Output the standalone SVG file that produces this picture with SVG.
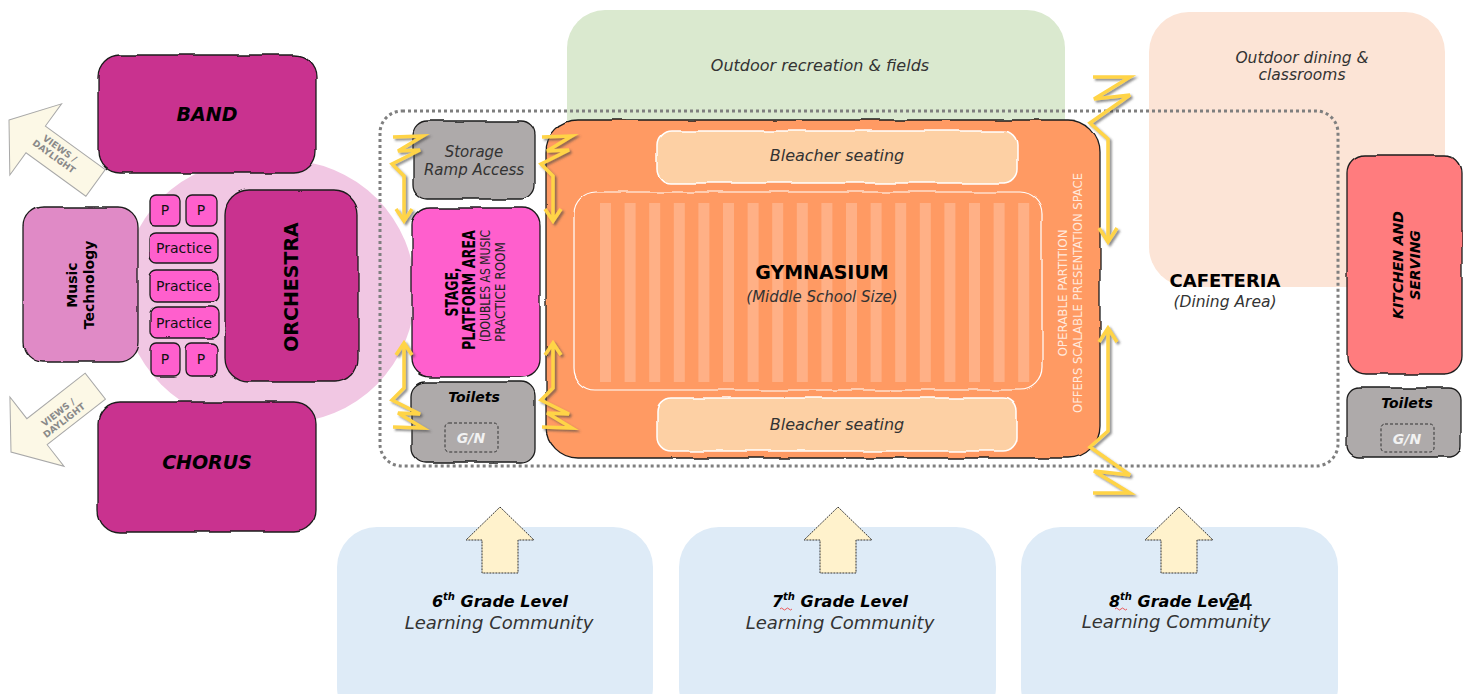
<svg xmlns="http://www.w3.org/2000/svg" width="1463" height="694" viewBox="0 0 1463 694">
<defs>
<filter id="wob" x="-5%" y="-5%" width="110%" height="110%">
<feTurbulence type="fractalNoise" baseFrequency="0.035" numOctaves="1" seed="3" result="n"/>
<feDisplacementMap in="SourceGraphic" in2="n" scale="4" xChannelSelector="R" yChannelSelector="G"/>
</filter>
<filter id="sh" x="-30%" y="-10%" width="160%" height="130%">
<feDropShadow dx="2" dy="2" stdDeviation="1.2" flood-color="#444" flood-opacity="0.6"/>
</filter>
<path id="zigS" d="M-11 0 L19 -1 L-6 14 L16 13 L-12 27 L0 39 L0 84 M-8 72 L0 84 L8 72"/>
<path id="zigB" d="M-15 0 L22 0 L-14 22 L22 18 L-18 46 L0 62 L0 165 M-9 151 L0 165 L9 151"/>
<path id="views" d="M0 0 L33 -44 L33 -16.5 L107 -16.5 L107 16.5 L33 16.5 L33 44 Z"/>
<path id="up" d="M0 0 L34 33 L18 33 L18 66 L-18 66 L-18 33 L-34 33 Z"/>
</defs>
<style>
.room{stroke:#1c1c1c;stroke-width:1.3;filter:url(#wob)}
.t{font-family:"DejaVu Sans","Liberation Sans",sans-serif;}
.c{font-family:"DejaVu Sans Condensed","DejaVu Sans",sans-serif;font-stretch:condensed;}
.b{font-weight:bold}
.i{font-style:italic}
.m{text-anchor:middle}
.zig{fill:none;stroke:#ffd447;stroke-width:3.5;stroke-linejoin:miter;filter:url(#sh)}
.gray{fill:#aeaaaa}
.gn{fill:none;stroke:#333;stroke-width:1;stroke-dasharray:3 2}
.stripe{fill:#ffb48c;opacity:0.85}
</style>
<rect width="1463" height="694" fill="#fff"/>

<g id="backgrounds">
<rect id="outdoor-rec" x="567" y="10" width="498" height="160" rx="38" fill="#dae9cf"/>
<rect id="outdoor-dining" x="1149" y="12" width="296" height="275" rx="40" fill="#fce4d6"/>
<rect x="337" y="527" width="316" height="200" rx="40" fill="#deebf7"/>
<rect x="679" y="527" width="317" height="200" rx="40" fill="#deebf7"/>
<rect x="1021" y="527" width="317" height="200" rx="40" fill="#deebf7"/>
<rect id="music-blob" x="123" y="160" width="292" height="263" rx="131" fill="#f1c7e3"/>
<rect id="cafeteria-frame" x="380" y="111" width="958" height="355" rx="22" fill="none" stroke="#7f7f7f" stroke-width="3" stroke-dasharray="3 3"/>
</g>

<g id="views-arrows" fill="#fcf8e6" stroke="#a8a8a8" stroke-width="1">
<use href="#views" transform="translate(9,120) rotate(36)"/>
<use href="#views" transform="translate(11,452) rotate(-38)"/>
</g>

<g id="band"><rect class="room" x="98" y="55" width="218" height="118" rx="22" fill="#c9318f"/>
<text class="t b i m" x="207" y="121" font-size="19">BAND</text></g>
<g id="chorus"><rect class="room" x="98" y="402" width="218" height="130" rx="22" fill="#c9318f"/>
<text class="t b i m" x="207" y="469" font-size="19">CHORUS</text></g>
<g id="music-technology"><rect class="room" x="23" y="207" width="115" height="155" rx="20" fill="#e08ac6"/>
<text class="t b m" font-size="14" transform="translate(77,285) rotate(-90)"><tspan x="0" y="0">Music</tspan><tspan x="0" y="17">Technology</tspan></text></g>
<g id="orchestra"><rect class="room" x="225" y="190" width="133" height="192" rx="24" fill="#c9318f"/>
<text class="t b m" font-size="19" transform="translate(298,287) rotate(-90)">ORCHESTRA</text></g>
<g id="practice-rooms" fill="#ff5fcd">
<rect class="room" x="150" y="195" width="30" height="31" rx="6"/>
<rect class="room" x="186" y="195" width="31" height="31" rx="6"/>
<rect class="room" x="150" y="233" width="68" height="30" rx="7"/>
<rect class="room" x="150" y="270" width="68" height="32" rx="7"/>
<rect class="room" x="150" y="307" width="68" height="31" rx="7"/>
<rect class="room" x="150" y="343" width="30" height="33" rx="6"/>
<rect class="room" x="186" y="343" width="31" height="33" rx="6"/>
</g>
<g id="practice-labels" class="t m" font-size="14" fill="#111">
<text x="165" y="215">P</text><text x="201" y="215">P</text>
<text x="184" y="253">Practice</text><text x="184" y="291">Practice</text><text x="184" y="328">Practice</text>
<text x="165" y="364">P</text><text x="201" y="364">P</text>
</g>

<g id="storage"><rect class="room gray" x="413" y="121" width="122" height="78" rx="14"/>
<text class="t i m" font-size="15" fill="#333"><tspan x="474" y="157">Storage</tspan><tspan x="474" y="175">Ramp Access</tspan></text></g>
<g id="stage"><rect class="room" x="412" y="208" width="128" height="169" rx="18" fill="#ff5fcd"/>
<g transform="rotate(-90)">
<text class="c b m" x="-292" y="458" font-size="17" textLength="49" lengthAdjust="spacingAndGlyphs">STAGE,</text>
<text class="c b m" x="-290" y="475" font-size="17" textLength="120" lengthAdjust="spacingAndGlyphs">PLATFORM AREA</text>
<text class="c m" x="-286" y="490" font-size="14" fill="#222" textLength="112" lengthAdjust="spacingAndGlyphs">(DOUBLES AS MUSIC</text>
<text class="c m" x="-292" y="505" font-size="14" fill="#222" textLength="100" lengthAdjust="spacingAndGlyphs">PRACTICE ROOM</text>
</g></g>
<g id="toilets-left"><rect class="room gray" x="412" y="382" width="123" height="80" rx="14"/>
<text class="t b i m" x="474" y="402" font-size="14">Toilets</text>
<rect class="gn" x="445" y="423" width="53" height="29" rx="4"/>
<text class="t b i m" x="471" y="443" font-size="14" fill="#f2f2f2">G/N</text></g>

<g id="gymnasium">
<rect class="room" x="546" y="120" width="554" height="338" rx="32" fill="#ff9a64"/>
<g id="court-stripes">
<rect class="stripe" x="600" y="203" width="11" height="179"/><rect class="stripe" x="624.6" y="203" width="11" height="179"/>
<rect class="stripe" x="649.2" y="203" width="11" height="179"/><rect class="stripe" x="673.8" y="203" width="11" height="179"/>
<rect class="stripe" x="698.4" y="203" width="11" height="179"/><rect class="stripe" x="723" y="203" width="11" height="179"/>
<rect class="stripe" x="747.6" y="203" width="11" height="179"/><rect class="stripe" x="772.2" y="203" width="11" height="179"/>
<rect class="stripe" x="796.8" y="203" width="11" height="179"/><rect class="stripe" x="821.4" y="203" width="11" height="179"/>
<rect class="stripe" x="846" y="203" width="11" height="179"/><rect class="stripe" x="870.6" y="203" width="11" height="179"/>
<rect class="stripe" x="895.2" y="203" width="11" height="179"/><rect class="stripe" x="919.8" y="203" width="11" height="179"/>
<rect class="stripe" x="944.4" y="203" width="11" height="179"/><rect class="stripe" x="969" y="203" width="11" height="179"/>
<rect class="stripe" x="993.6" y="203" width="11" height="179"/><rect class="stripe" x="1018.2" y="203" width="11" height="179"/>
</g>
<rect x="574" y="192" width="468" height="198" rx="22" fill="none" stroke="#fff" stroke-width="1.2" filter="url(#wob)"/>
<text class="t b m" x="822" y="279" font-size="19">GYMNASIUM</text>
<text class="t i m" x="822" y="302" font-size="15" fill="#333">(Middle School Size)</text>
<g transform="translate(1067,293) rotate(-90)" fill="#ffe9dc">
<text class="c m" x="0" y="0" font-size="13" textLength="127" lengthAdjust="spacingAndGlyphs">OPERABLE PARTITION</text>
<text class="c m" x="0" y="15" font-size="13" textLength="240" lengthAdjust="spacingAndGlyphs">OFFERS SCALABLE PRESENTATION SPACE</text>
</g>
</g>
<g id="bleacher-top"><rect x="657" y="131" width="360" height="52" rx="14" fill="#fdd0a4" stroke="#fff" stroke-width="1.5" filter="url(#wob)"/>
<text class="t i m" x="837" y="161" font-size="16" fill="#333">Bleacher seating</text></g>
<g id="bleacher-bottom"><rect x="657" y="398" width="360" height="53" rx="14" fill="#fdd0a4" stroke="#fff" stroke-width="1.5" filter="url(#wob)"/>
<text class="t i m" x="837" y="430" font-size="16" fill="#333">Bleacher seating</text></g>

<g id="cafeteria">
<text class="t b m" x="1225" y="287" font-size="18">CAFETERIA</text>
<text class="t i m" x="1225" y="307" font-size="15.5" fill="#333">(Dining Area)</text>
</g>
<g id="kitchen"><rect class="room" x="1347" y="155" width="115" height="219" rx="18" fill="#ff7c7e"/>
<text class="t b i m" font-size="14" transform="translate(1403,265) rotate(-90)"><tspan x="0" y="0">KITCHEN AND</tspan><tspan x="0" y="17">SERVING</tspan></text></g>
<g id="toilets-right"><rect class="room gray" x="1347" y="388" width="114" height="69" rx="12"/>
<text class="t b i m" x="1407" y="408" font-size="14">Toilets</text>
<rect class="gn" x="1381" y="424" width="53" height="28" rx="4"/>
<text class="t b i m" x="1407" y="444" font-size="14" fill="#f2f2f2">G/N</text></g>

<g id="outdoor-labels" class="t i m" fill="#333">
<text x="820" y="71" font-size="16">Outdoor recreation &amp; fields</text>
<text font-size="15.5"><tspan x="1302" y="63">Outdoor dining &amp;</tspan><tspan x="1302" y="80">classrooms</tspan></text>
</g>

<g id="connectors">
<g class="zig">
<use href="#zigS" transform="translate(404,137)"/>
<use href="#zigS" transform="translate(404,427) scale(1,-1)"/>
<use href="#zigS" transform="translate(553,137)"/>
<use href="#zigS" transform="translate(553,427) scale(1,-1)"/>
<use href="#zigB" transform="translate(1108,77)"/>
<use href="#zigB" transform="translate(1108,493) scale(1,-1)"/>
</g>
<g fill="#fff2cc" stroke="#333" stroke-width="1" stroke-dasharray="2 1">
<use href="#up" transform="translate(500,507)"/>
<use href="#up" transform="translate(838,507)"/>
<use href="#up" transform="translate(1179,507)"/>
</g>
</g>

<g id="views-labels" class="t b m" font-size="9" fill="#8a8a8a">
<text transform="translate(58,151) rotate(36)"><tspan x="0" y="0">VIEWS /</tspan><tspan x="0" y="10">DAYLIGHT</tspan></text>
<text transform="translate(60,415) rotate(-38)"><tspan x="0" y="0">VIEWS /</tspan><tspan x="0" y="10">DAYLIGHT</tspan></text>
</g>

<g id="grade-6"><text class="t b i m" x="500" y="607" font-size="16">6<tspan font-size="10" dy="-7">th</tspan><tspan dy="7"> Grade Level</tspan></text>
<text class="t i m" x="499" y="629" font-size="18" fill="#333">Learning Community</text></g>
<g id="grade-7"><text class="t b i m" x="840" y="607" font-size="16">7<tspan font-size="10" dy="-7">th</tspan><tspan dy="7"> Grade Level</tspan></text>
<path d="M780 609 q1.5 -2 3 0 t3 0 t3 0 t3 0" fill="none" stroke="#e33" stroke-width="0.8"/>
<text class="t i m" x="840" y="629" font-size="18" fill="#333">Learning Community</text></g>
<g id="grade-8"><text class="t b i m" x="1177" y="607" font-size="16">8<tspan font-size="10" dy="-7">th</tspan><tspan dy="7"> Grade Level</tspan></text>
<path d="M1115 609 q1.5 -2 3 0 t3 0 t3 0 t3 0" fill="none" stroke="#e33" stroke-width="0.8"/>
<text class="t i m" x="1176" y="628" font-size="18" fill="#333">Learning Community</text>
<text x="1239" y="610" font-family="Liberation Sans, sans-serif" font-size="24" text-anchor="middle" fill="#111">24</text></g>
</svg>
